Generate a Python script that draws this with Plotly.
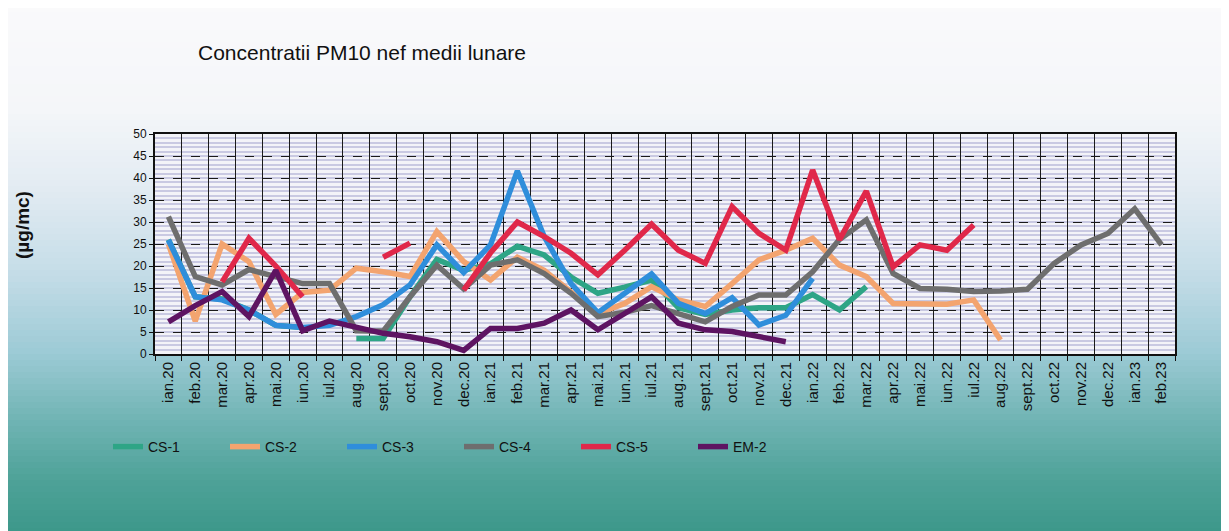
import plotly.graph_objects as go

months = ["ian.20","feb.20","mar.20","apr.20","mai.20","iun.20","iul.20","aug.20","sept.20","oct.20","nov.20","dec.20",
          "ian.21","feb.21","mar.21","apr.21","mai.21","iun.21","iul.21","aug.21","sept.21","oct.21","nov.21","dec.21",
          "ian.22","feb.22","mar.22","apr.22","mai.22","iun.22","iul.22","aug.22","sept.22","oct.22","nov.22","dec.22",
          "ian.23","feb.23"]

N = None
cs1 = [26, 13, 12.5, 10, 6.5, 6, N, 3.5, 3.5, 13, 21.5, 19,
       20.5, 24.5, 22.5, 17.5, 13.8, 15.2, 16.8, 10.5, 9, 10, 10.5, 10.5,
       13.5, 10, 15.3, N, N, N, N, N, N, N, N, N, N, N]
cs2 = [25, 7.5, 25, 21, 9, 14, 14.5, 19.5, 18.7, 17.6, 27.8, 21,
       16.8, 22, 19, 14, 9.2, 11.5, 15.3, 12.3, 10.8, 16, 21.4, 23.6,
       26.3, 20.2, 17.6, 11.5, 11.5, 11.3, 12.3, 3.2, N, N, N, N, N, N]
cs3 = [25.9, 13, 12.3, 10, 6.5, 6, 6.5, 8.5, 11.2, 15.7, 24.8, 18.5,
       24.8, 41.6, 26.7, 16, 9.4, 13.8, 18.2, 11.5, 9.2, 12.8, 6.6, 8.8,
       17.2, N, N, N, N, N, N, N, N, N, N, N, N, N]
cs4 = [31.2, 17.6, 15.7, 19.2, 17.6, 16, 16, 5.3, 5.2, 13, 20.2, 14.8,
       20.2, 21.4, 18.3, 13.8, 8.5, 9.5, 11, 9.2, 7.3, 10.8, 13.4, 13.4,
       18.7, 26, 30.5, 18.3, 14.9, 14.7, 14.2, 14.3, 14.7, 20.6, 24.8, 27.4,
       33, 24.8]
cs5 = [N, N, 16.4, 26.3, 20, 13, N, N, 22, 25.2, N, 14.5,
       23, 30, 26.7, 22.9, 18, 23.6, 29.5, 23.6, 20.6, 33.5, 27.4, 23.6,
       41.8, 26, 37, 19.8, 24.8, 23.6, 29.3, N, N, N, N, N, N, N]
em2 = [7.3, 11, 14.2, 8.5, 19, 5.3, 7.5, 6.2, 4.7, 3.9, 2.8, 0.8,
       5.8, 5.8, 7, 10, 5.5, 9.2, 13, 7, 5.5, 5.1, 3.9, 2.8,
       N, N, N, N, N, N, N, N, N, N, N, N, N, N]

series_names = ["CS-1", "CS-2", "CS-3", "CS-4", "CS-5", "EM-2"]
series_values = [cs1, cs2, cs3, cs4, cs5, em2]
series_colors = ["#2ea586", "#f3a46f", "#2f8edb", "#6e6e6e", "#e0284a", "#5e1462"]
y_ticks = [0, 5, 10, 15, 20, 25, 30, 35, 40, 45, 50]

W, H = 1229, 531
OFF = 8  # page body margin
L, R, T, B = 155 - OFF, 54 + OFF, 134 - OFF, 177 + OFF
PW, PH = W - L - R, H - T - B

fig = go.Figure()
for name, vals, col in zip(series_names, series_values, series_colors):
    fig.add_trace(go.Scatter(x=months, y=vals, name=name, mode="lines",
                             line=dict(color=col, width=5.5), connectgaps=False))

# background gradient (scanned page look); stops in screen pixels
stops = [(0, (250, 250, 251)), (110, (244, 246, 249)), (190, (226, 235, 242)),
         (270, (198, 221, 232)), (350, (158, 203, 214)), (420, (112, 180, 180)),
         (480, (78, 162, 152)), (540, (58, 150, 136))]

def color_at(py):
    for (y0, c0), (y1, c1) in zip(stops[:-1], stops[1:]):
        if y0 <= py <= y1:
            t = (py - y0) / (y1 - y0)
            return "rgb(%d,%d,%d)" % tuple(round(a + (b - a) * t) for a, b in zip(c0, c1))
    return "rgb(%d,%d,%d)" % stops[-1][1]

def fx(xp):  # screen px -> paper x
    return (xp - OFF - L) / PW

def fy(yp):  # screen px -> paper y
    return (H - B - (yp - OFF)) / PH

shapes = []
step = 6
for yp in range(0, H + OFF, step):
    shapes.append(dict(type="rect", xref="paper", yref="paper", layer="below",
                       x0=fx(-10), x1=fx(W + 20), y0=fy(yp + step + 0.5), y1=fy(yp),
                       fillcolor=color_at(yp + step / 2), line=dict(width=0)))
shapes.append(dict(type="rect", xref="paper", yref="paper", layer="below",
                   x0=0, x1=1, y0=0, y1=1, fillcolor="#f3f3f8", line=dict(width=0)))
fig.update_layout(shapes=shapes)

fig.update_layout(
    width=W, height=H,
    margin=dict(l=L, r=R, t=T, b=B),
    paper_bgcolor="white", plot_bgcolor="rgba(0,0,0,0)",
    font=dict(family="Liberation Sans, Arial, sans-serif", color="#111"),
    title=dict(text="Concentratii PM10 nef medii lunare", x=(198 - OFF) / W, xref="container", xanchor="left",
               y=1 - (53 - OFF) / H, yref="container", yanchor="middle",
               font=dict(size=21, color="#111")),
    showlegend=True,
    legend=dict(orientation="h", x=fx(108), xanchor="left", y=fy(447), yanchor="middle",
                font=dict(size=14, color="#111"), bgcolor="rgba(0,0,0,0)",
                entrywidth=72, entrywidthmode="pixels", traceorder="normal"),
    annotations=[dict(text="<b>(µg/mc)</b>", textangle=-90, xref="paper", yref="paper",
                      x=fx(22), y=fy(225), xanchor="center", yanchor="middle",
                      showarrow=False, font=dict(size=19, color="#111"))],
)

fig.update_xaxes(type="category", categoryorder="array", categoryarray=months,
                 tickson="boundaries", ticks="outside", ticklen=5, tickcolor="#111",
                 tickangle=-90, tickfont=dict(size=15, color="#111"),
                 showgrid=True, gridcolor="#1a1a1a", gridwidth=1.3,
                 showline=True, linecolor="#111", linewidth=2, mirror=True,
                 range=[-0.5, len(months) - 0.5])
fig.update_yaxes(range=[0, 50], tickvals=y_ticks, ticks="outside", ticklen=4, tickcolor="#111",
                 tickfont=dict(size=12, color="#111"),
                 showgrid=True, gridcolor="#1a1a1a", gridwidth=1, griddash="dash",
                 minor=dict(dtick=1, showgrid=True, gridcolor="#c9c9e2", gridwidth=2, griddash="solid"),
                 showline=True, linecolor="#111", linewidth=2, mirror=True, zeroline=False)

fig.write_html("out.html")
